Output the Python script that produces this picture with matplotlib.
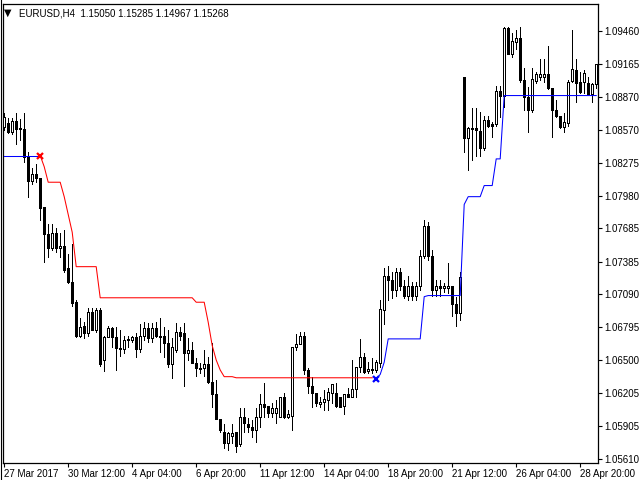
import matplotlib
matplotlib.use('Agg')
import matplotlib.pyplot as plt
import numpy as np

# EURUSD H4 candles, first bar 27 Mar 2017 20:00 (prices)
opens = [1.0860, 1.0863, 1.0855, 1.0865, 1.0859, 1.0858, 1.0834, 1.0811, 1.0817, 1.0814,
         1.0788, 1.0763, 1.0751, 1.0764, 1.0751, 1.0753, 1.0733, 1.0720, 1.0702, 1.0672,
         1.0681, 1.0674, 1.0693, 1.0677, 1.0695, 1.0650, 1.0671, 1.0679, 1.0671, 1.0661,
         1.0660, 1.0668, 1.0668, 1.0671, 1.0660, 1.0672, 1.0679, 1.0670, 1.0679, 1.0672,
         1.0672, 1.0665, 1.0646, 1.0659, 1.0675, 1.0674, 1.0656, 1.0659, 1.0647, 1.0643,
         1.0643, 1.0646, 1.0630, 1.0619, 1.0597, 1.0585, 1.0575, 1.0582, 1.0585, 1.0574,
         1.0599, 1.0592, 1.0590, 1.0587, 1.0599, 1.0610, 1.0609, 1.0602, 1.0602, 1.0599,
         1.0617, 1.0599, 1.0600, 1.0662, 1.0664, 1.0672, 1.0641, 1.0627, 1.0620, 1.0610,
         1.0612, 1.0614, 1.0620, 1.0620, 1.0617, 1.0609, 1.0619, 1.0617, 1.0624, 1.0644,
         1.0653, 1.0640, 1.0642, 1.0641, 1.0647, 1.0695, 1.0726, 1.0722, 1.0713, 1.0729,
         1.0717, 1.0708, 1.0717, 1.0708, 1.0717, 1.0744, 1.0771, 1.0744, 1.0713, 1.0717,
         1.0715, 1.0715, 1.0717, 1.0700, 1.0692, 1.0905, 1.0850, 1.0859, 1.0859, 1.0856,
         1.0841, 1.0866, 1.0862, 1.0862, 1.0892, 1.0888, 1.0949, 1.0925, 1.0936, 1.0940,
         1.0902, 1.0887, 1.0875, 1.0901, 1.0905, 1.0905, 1.0907, 1.0895, 1.0875, 1.0870,
         1.0860, 1.0863, 1.0901, 1.0911, 1.0900, 1.0900, 1.0899, 1.0889, 1.0898]
highs = [1.0872, 1.0868, 1.0868, 1.0872, 1.0867, 1.0872, 1.0837, 1.0823, 1.0826, 1.0814,
         1.0788, 1.0772, 1.0772, 1.0769, 1.0764, 1.0767, 1.0745, 1.0754, 1.0704, 1.0688,
         1.0684, 1.0697, 1.0697, 1.0697, 1.0697, 1.0672, 1.0681, 1.0680, 1.0680, 1.0677,
         1.0672, 1.0672, 1.0672, 1.0674, 1.0682, 1.0684, 1.0683, 1.0683, 1.0684, 1.0688,
         1.0680, 1.0677, 1.0670, 1.0683, 1.0680, 1.0683, 1.0670, 1.0666, 1.0652, 1.0647,
         1.0659, 1.0653, 1.0665, 1.0632, 1.0597, 1.0592, 1.0585, 1.0592, 1.0585, 1.0607,
         1.0607, 1.0598, 1.0596, 1.0607, 1.0619, 1.0629, 1.0609, 1.0611, 1.0614, 1.0617,
         1.0620, 1.0605, 1.0662, 1.0673, 1.0675, 1.0675, 1.0643, 1.0635, 1.0620, 1.0617,
         1.0623, 1.0625, 1.0628, 1.0629, 1.0617, 1.0619, 1.0625, 1.0650, 1.0644, 1.0669,
         1.0656, 1.0648, 1.0652, 1.0650, 1.0704, 1.0733, 1.0735, 1.0729, 1.0733, 1.0733,
         1.0722, 1.0726, 1.0720, 1.0720, 1.0749, 1.0776, 1.0774, 1.0749, 1.0722, 1.0722,
         1.0719, 1.0737, 1.0717, 1.0707, 1.0729, 1.0905, 1.0860, 1.0877, 1.0877, 1.0873,
         1.0870, 1.0870, 1.0864, 1.0897, 1.0897, 1.0950, 1.0950, 1.0944, 1.0947, 1.0950,
         1.0913, 1.0896, 1.0913, 1.0909, 1.0921, 1.0921, 1.0933, 1.0895, 1.0884, 1.0870,
         1.0872, 1.0902, 1.0947, 1.0921, 1.0909, 1.0911, 1.0905, 1.0899, 1.0916]
lows = [1.0857, 1.0854, 1.0853, 1.0844, 1.0848, 1.0828, 1.0797, 1.0808, 1.0810, 1.0776,
        1.0738, 1.0743, 1.0749, 1.0747, 1.0743, 1.0729, 1.0719, 1.0699, 1.0671, 1.0671,
        1.0670, 1.0672, 1.0677, 1.0675, 1.0645, 1.0640, 1.0671, 1.0662, 1.0641, 1.0654,
        1.0656, 1.0662, 1.0666, 1.0653, 1.0657, 1.0668, 1.0666, 1.0666, 1.0671, 1.0657,
        1.0653, 1.0644, 1.0634, 1.0657, 1.0668, 1.0627, 1.0650, 1.0647, 1.0636, 1.0638,
        1.0636, 1.0629, 1.0608, 1.0597, 1.0585, 1.0571, 1.0569, 1.0575, 1.0567, 1.0573,
        1.0585, 1.0585, 1.0581, 1.0576, 1.0590, 1.0599, 1.0599, 1.0599, 1.0593, 1.0599,
        1.0598, 1.0598, 1.0587, 1.0659, 1.0664, 1.0637, 1.0620, 1.0608, 1.0609, 1.0608,
        1.0605, 1.0605, 1.0611, 1.0608, 1.0608, 1.0601, 1.0617, 1.0617, 1.0617, 1.0639,
        1.0638, 1.0638, 1.0638, 1.0639, 1.0644, 1.0682, 1.0704, 1.0706, 1.0708, 1.0713,
        1.0706, 1.0704, 1.0704, 1.0704, 1.0713, 1.0742, 1.0740, 1.0708, 1.0708, 1.0708,
        1.0711, 1.0710, 1.0690, 1.0681, 1.0686, 1.0837, 1.0821, 1.0830, 1.0834, 1.0834,
        1.0839, 1.0860, 1.0851, 1.0861, 1.0869, 1.0878, 1.0925, 1.0923, 1.0930, 1.0900,
        1.0875, 1.0855, 1.0873, 1.0899, 1.0902, 1.0900, 1.0894, 1.0851, 1.0869, 1.0859,
        1.0855, 1.0861, 1.0900, 1.0882, 1.0890, 1.0890, 1.0889, 1.0882, 1.0895]
closes = [1.0869, 1.0855, 1.0865, 1.0858, 1.0858, 1.0833, 1.0811, 1.0817, 1.0814, 1.0787,
          1.0763, 1.0751, 1.0764, 1.0751, 1.0753, 1.0731, 1.0720, 1.0701, 1.0672, 1.0680,
          1.0674, 1.0693, 1.0677, 1.0695, 1.0646, 1.0671, 1.0679, 1.0671, 1.0661, 1.0660,
          1.0668, 1.0669, 1.0671, 1.0660, 1.0672, 1.0679, 1.0670, 1.0679, 1.0672, 1.0671,
          1.0665, 1.0646, 1.0662, 1.0675, 1.0672, 1.0656, 1.0659, 1.0647, 1.0643, 1.0642,
          1.0646, 1.0630, 1.0619, 1.0597, 1.0587, 1.0575, 1.0584, 1.0584, 1.0573, 1.0599,
          1.0593, 1.0590, 1.0587, 1.0599, 1.0610, 1.0608, 1.0602, 1.0607, 1.0607, 1.0617,
          1.0599, 1.0601, 1.0662, 1.0664, 1.0672, 1.0641, 1.0627, 1.0620, 1.0611, 1.0612,
          1.0615, 1.0621, 1.0628, 1.0609, 1.0608, 1.0619, 1.0617, 1.0624, 1.0644, 1.0653,
          1.0639, 1.0642, 1.0641, 1.0648, 1.0696, 1.0726, 1.0722, 1.0713, 1.0729, 1.0717,
          1.0708, 1.0717, 1.0708, 1.0717, 1.0744, 1.0771, 1.0744, 1.0713, 1.0717, 1.0715,
          1.0717, 1.0717, 1.0700, 1.0692, 1.0725, 1.0850, 1.0859, 1.0858, 1.0857, 1.0841,
          1.0866, 1.0861, 1.0861, 1.0892, 1.0888, 1.0949, 1.0925, 1.0937, 1.0940, 1.0902,
          1.0887, 1.0875, 1.0903, 1.0907, 1.0907, 1.0907, 1.0895, 1.0875, 1.0870, 1.0860,
          1.0864, 1.0900, 1.0912, 1.0899, 1.0891, 1.0908, 1.0889, 1.0898, 1.0916]

# trailing stop indicator: blue (long) and red (short) segments
blue_head = [1.0834, 1.0834, 1.0834, 1.0834, 1.0834, 1.0834, 1.0834, 1.0834, 1.0834, 1.0834]
red_start = 9
red_stop = [1.0834, 1.0824, 1.0810, 1.0810, 1.0810, 1.0810, 1.0797, 1.0781, 1.0765,
            1.0734, 1.0734, 1.0734, 1.0734, 1.0734, 1.0734,
            1.0706, 1.0706, 1.0706, 1.0706, 1.0706, 1.0706, 1.0706, 1.0706, 1.0706, 1.0706,
            1.0706, 1.0706, 1.0706, 1.0706, 1.0706, 1.0706, 1.0706, 1.0706, 1.0706, 1.0706,
            1.0706, 1.0706, 1.0706, 1.0706,
            1.0702, 1.0702, 1.0702, 1.0684, 1.0663, 1.0650, 1.0641, 1.0635, 1.0635, 1.0635,
            1.0634, 1.0634, 1.0634, 1.0634, 1.0634, 1.0634, 1.0634, 1.0634, 1.0634, 1.0634,
            1.0634, 1.0634, 1.0634, 1.0634, 1.0634, 1.0634, 1.0634, 1.0634, 1.0634, 1.0634,
            1.0634, 1.0634, 1.0634, 1.0634, 1.0634, 1.0634, 1.0634, 1.0634, 1.0634, 1.0634,
            1.0634, 1.0634, 1.0634, 1.0634, 1.0634]
blue_start = 93
blue_tail = [1.0633, 1.0637, 1.0648,
             1.0669, 1.0669, 1.0669, 1.0669, 1.0669, 1.0669, 1.0669, 1.0669, 1.0669,
             1.0707, 1.0708, 1.0708, 1.0708, 1.0708, 1.0708, 1.0708, 1.0708, 1.0708, 1.0708,
             1.0790, 1.0797, 1.0797, 1.0797, 1.0797, 1.0807, 1.0807, 1.0807, 1.0831, 1.0831,
             1.0888, 1.0888, 1.0888, 1.0888, 1.0888, 1.0888, 1.0888, 1.0888, 1.0888, 1.0888,
             1.0888, 1.0888, 1.0888, 1.0888, 1.0888, 1.0888, 1.0888, 1.0888, 1.0888, 1.0888,
             1.0888, 1.0888, 1.0888, 1.0888]

time_labels = ['27 Mar 2017', '30 Mar 12:00', '4 Apr 04:00', '6 Apr 20:00', '11 Apr 12:00',
               '14 Apr 04:00', '18 Apr 20:00', '21 Apr 12:00', '26 Apr 04:00', '28 Apr 20:00']
label_bars = [0, 16, 32, 48, 64, 80, 96, 112, 128, 144]
price_ticks = [1.09460, 1.09165, 1.08870, 1.08570, 1.08275, 1.07980, 1.07685,
               1.07385, 1.07090, 1.06795, 1.06500, 1.06205, 1.05905, 1.05610]

font = 'Liberation Sans'
lw = 0.55  # about one pixel, drawn without antialiasing like the terminal does

fig = plt.figure(figsize=(6.4, 4.8), dpi=100)
ax = fig.add_axes([3 / 640, 17 / 480, 595 / 640, 459 / 480])

o = np.array(opens)
h = np.array(highs)
l = np.array(lows)
c = np.array(closes)
idx = np.arange(len(o))

ax.vlines(idx, l, h, color='black', linewidth=lw, antialiased=False, zorder=2)
up = c >= o
body_lo = np.minimum(o, c)
body_h = np.abs(c - o)
ax.bar(idx[up], body_h[up], bottom=body_lo[up], width=0.55, color='white',
       edgecolor='black', linewidth=lw, antialiased=False, zorder=3)
ax.bar(idx[~up], body_h[~up], bottom=body_lo[~up], width=0.55, color='black',
       edgecolor='black', linewidth=lw, antialiased=False, zorder=3)

# indicator lines: thin and antialiased so they stay about one pixel wide
ax.plot(np.arange(len(blue_head)), blue_head, color='#0000ff', linewidth=0.75, zorder=4)
ax.plot(np.arange(red_start, red_start + len(red_stop)), red_stop, color='#ff0000',
        linewidth=0.75, zorder=4)
ax.plot(np.arange(blue_start, blue_start + len(blue_tail)), blue_tail, color='#0000ff',
        linewidth=0.75, zorder=4)
ax.plot([red_start], [red_stop[0]], marker='x', color='#ff0000', markersize=5,
        markeredgewidth=1.6, zorder=5)
ax.plot([blue_start], [blue_tail[0]], marker='x', color='#0000ff', markersize=5,
        markeredgewidth=1.6, zorder=5)

ax.set_xlim(-0.3, 148.45)
ax.set_ylim(1.05573, 1.09704)

ax.yaxis.tick_right()
ax.set_yticks(price_ticks)
ax.set_yticklabels(['%.5f' % p for p in price_ticks], fontsize=7, family=font)
ax.set_xticks(label_bars)
ax.set_xticklabels(time_labels, fontsize=7, family=font, ha='left')
ax.tick_params(axis='both', direction='out', length=3, width=0.8, color='black',
               labelcolor='black', pad=1.5)
for s in ax.spines.values():
    s.set_linewidth(0.9)
    s.set_color('black')

fig.text(4 / 640, 1 - 13 / 480, '\u25bc', fontsize=7, family='DejaVu Sans', va='center')
fig.text(19 / 640, 1 - 13 / 480, 'EURUSD,H4  1.15050 1.15285 1.14967 1.15268',
         fontsize=7, family=font, va='center')
fig.add_artist(plt.Line2D([0.5 / 640, 0.5 / 640], [0, 1], color='black', linewidth=0.8))

plt.savefig('out.png', dpi=100)
